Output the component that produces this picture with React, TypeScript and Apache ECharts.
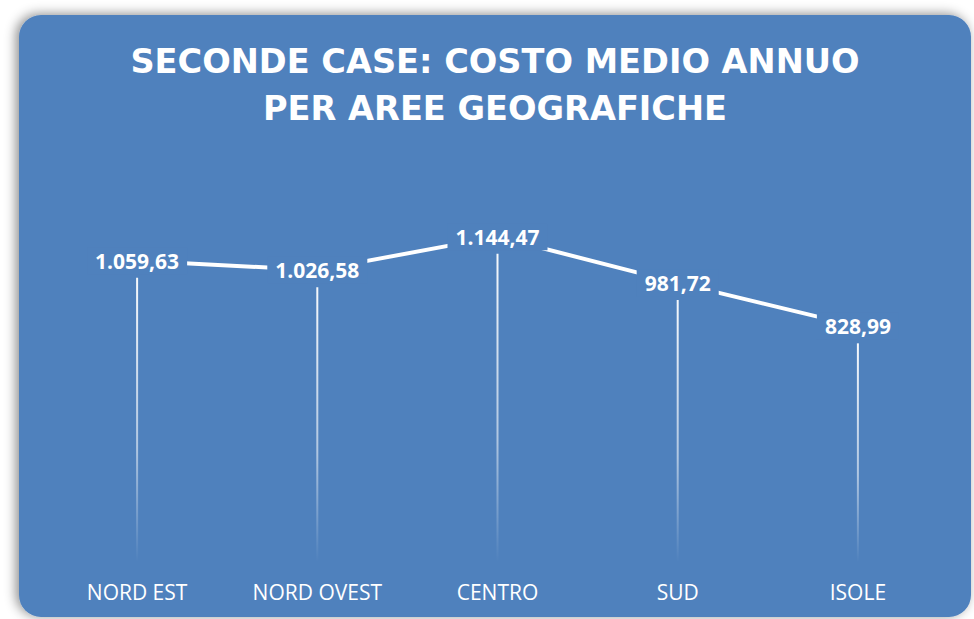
import React, { useEffect, useRef } from "react";
import * as echarts from "echarts";

const categories = ["NORD EST", "NORD OVEST", "CENTRO", "SUD", "ISOLE"];
const costValues = [1059.63, 1026.58, 1144.47, 981.72, 828.99];
const titleLines = ["SECONDE CASE: COSTO MEDIO ANNUO", "PER AREE GEOGRAFICHE"];

const BLUE = "#4F81BD";

const fmt = (v: number) => {
  const [intPart, dec] = v.toFixed(2).split(".");
  const withDots = intPart.replace(/\B(?=(\d{3})+(?!\d))/g, ".");
  return withDots + "," + dec;
};

export default function App() {
  const ref = useRef<HTMLDivElement>(null);
  useEffect(() => {
    document.body.style.margin = "0";
    const chart = echarts.init(ref.current!, null, { renderer: "svg" });
    chart.setOption({
      animation: false,
      backgroundColor: "#ffffff",
      graphic: [
        {
          type: "rect",
          z: -10,
          shape: { x: 19, y: 15, width: 952, height: 602, r: 22 },
          style: {
            fill: BLUE,
            shadowBlur: 12,
            shadowColor: "rgba(0,0,0,0.45)",
            shadowOffsetX: -3,
            shadowOffsetY: -1,
          },
        },
      ],
      title: {
        text: titleLines.join("\n"),
        left: 490,
        top: 33,
        textAlign: "center",
        textStyle: {
          color: "#ffffff",
          fontFamily: "DejaVu Sans",
          fontWeight: "bold",
          fontSize: 33.6,
          lineHeight: 47,
        },
      },
      grid: { left: 47, right: 26, top: 164, bottom: 57 },
      xAxis: {
        type: "category",
        data: categories,
        boundaryGap: true,
        axisLine: { show: false },
        axisTick: { show: false },
        splitLine: { show: false },
        axisLabel: {
          color: "#ffffff",
          fontFamily: "Open Sans",
          fontSize: 21,
          margin: 19,
        },
      },
      yAxis: {
        type: "value",
        min: 0,
        max: 1400,
        show: false,
        splitLine: { show: false },
      },
      series: [
        {
          type: "custom",
          z: 1,
          data: costValues.map((v, i) => [i, v]),
          renderItem: (params: any, api: any) => {
            const top = api.coord([api.value(0), api.value(1)]);
            const bottom = api.coord([api.value(0), 0]);
            const y0 = top[1] + 17;
            return {
              type: "rect",
              shape: { x: top[0] - 1, y: y0, width: 2, height: bottom[1] - y0 },
              style: {
                fill: new echarts.graphic.LinearGradient(0, 0, 0, 1, [
                  { offset: 0, color: "rgba(255,255,255,0.95)" },
                  { offset: 0.6, color: "rgba(255,255,255,0.55)" },
                  { offset: 1, color: "rgba(255,255,255,0)" },
                ]),
              },
            };
          },
        },
        {
          type: "line",
          z: 3,
          data: costValues,
          symbol: "circle",
          symbolSize: 1,
          showSymbol: true,
          itemStyle: { color: "rgba(0,0,0,0)" },
          lineStyle: { color: "#ffffff", width: 4 },
          label: {
            show: true,
            position: "inside",
            formatter: (p: any) => fmt(p.value),
            color: "#ffffff",
            fontFamily: "Open Sans",
            fontWeight: "bold",
            fontSize: 21,
            backgroundColor: BLUE,
            padding: [3, 8],
          },
        },
      ],
    });
    return () => chart.dispose();
  }, []);
  return <div ref={ref} style={{ width: 974, height: 619 }} />;
}
